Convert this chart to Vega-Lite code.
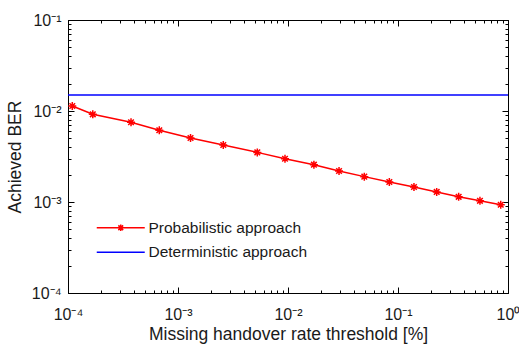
{
  "$schema": "https://vega.github.io/schema/vega-lite/v6.json",
  "width": 440,
  "height": 273,
  "autosize": "none",
  "padding": {"left": 68, "top": 20, "right": 11, "bottom": 51},
  "background": "white",
  "config": {
    "font": "Liberation Sans",
    "view": {"stroke": "#000000", "strokeWidth": 1},
    "axis": {
      "labelFont": "Liberation Sans",
      "titleFont": "Liberation Sans",
      "labelFontSize": 16,
      "titleFontSize": 17.5,
      "titleFontWeight": "normal",
      "labelColor": "#1a1a1a",
      "titleColor": "#1a1a1a",
      "domainColor": "#000000",
      "tickColor": "#000000",
      "grid": false
    },
    "legend": {
      "labelFont": "Liberation Sans",
      "labelFontSize": 15.5,
      "labelColor": "#1a1a1a"
    }
  },
  "data": {
    "values": [
      {"x": 0.0001094, "ber": 0.01135, "series": "Probabilistic approach"},
      {"x": 0.000168, "ber": 0.0092, "series": "Probabilistic approach"},
      {"x": 0.000374, "ber": 0.00752, "series": "Probabilistic approach"},
      {"x": 0.000676, "ber": 0.00614, "series": "Probabilistic approach"},
      {"x": 0.0013, "ber": 0.00505, "series": "Probabilistic approach"},
      {"x": 0.00258, "ber": 0.00423, "series": "Probabilistic approach"},
      {"x": 0.00526, "ber": 0.00351, "series": "Probabilistic approach"},
      {"x": 0.00939, "ber": 0.00299, "series": "Probabilistic approach"},
      {"x": 0.0172, "ber": 0.00257, "series": "Probabilistic approach"},
      {"x": 0.0291, "ber": 0.00219, "series": "Probabilistic approach"},
      {"x": 0.0494, "ber": 0.0019, "series": "Probabilistic approach"},
      {"x": 0.0834, "ber": 0.00166, "series": "Probabilistic approach"},
      {"x": 0.1397, "ber": 0.00146, "series": "Probabilistic approach"},
      {"x": 0.2248, "ber": 0.00129, "series": "Probabilistic approach"},
      {"x": 0.356, "ber": 0.00114, "series": "Probabilistic approach"},
      {"x": 0.556, "ber": 0.00103, "series": "Probabilistic approach"},
      {"x": 0.859, "ber": 0.000933, "series": "Probabilistic approach"},
      {"x": 0.0001, "ber": 0.015, "series": "Deterministic approach"},
      {"x": 1, "ber": 0.015, "series": "Deterministic approach"}
    ]
  },
  "resolve": {"axis": {"x": "independent", "y": "independent"}},
  "layer": [
    {
      "mark": {"type": "line", "strokeWidth": 1.5, "clip": true},
      "encoding": {
        "x": {
          "field": "x", "type": "quantitative",
          "scale": {"type": "log", "domain": [0.0001, 1], "nice": false},
          "axis": {
            "orient": "bottom",
            "title": "Missing handover rate threshold [%]",
            "titlePadding": 0,
            "values": [0.0001,0.0002,0.0003,0.0004,0.0005,0.0006,0.0007,0.0008,0.0009,0.001,0.002,0.003,0.004,0.005,0.006,0.007,0.008,0.009,0.01,0.02,0.03,0.04,0.05,0.06,0.07,0.08,0.09,0.1,0.2,0.3,0.4,0.5,0.6,0.7,0.8,0.9,1],
            "labelExpr": "datum.value == 0.0001 ? '10⁻⁴' : datum.value == 0.001 ? '10⁻³' : datum.value == 0.01 ? '10⁻²' : datum.value == 0.1 ? '10⁻¹' : datum.value == 1 ? '10⁰' : ''",
            "labelFlush": false,
            "labelOverlap": false,
            "labelPadding": 19,
            "tickSize": {"condition": {"test": "indexof([0.0001,0.001,0.01,0.1,1], datum.value) >= 0", "value": -6}, "value": -3}
          }
        },
        "y": {
          "field": "ber", "type": "quantitative",
          "scale": {"type": "log", "domain": [0.0001, 0.1], "nice": false},
          "axis": {
            "orient": "left",
            "title": "Achieved BER",
            "titlePadding": 7,
            "values": [0.0001,0.0002,0.0003,0.0004,0.0005,0.0006,0.0007,0.0008,0.0009,0.001,0.002,0.003,0.004,0.005,0.006,0.007,0.008,0.009,0.01,0.02,0.03,0.04,0.05,0.06,0.07,0.08,0.09,0.1],
            "labelExpr": "datum.value == 0.0001 ? '10⁻⁴' : datum.value == 0.001 ? '10⁻³' : datum.value == 0.01 ? '10⁻²' : datum.value == 0.1 ? '10⁻¹' : ''",
            "labelFlush": false,
            "labelOverlap": false,
            "labelPadding": 13,
            "tickSize": {"condition": {"test": "indexof([0.0001,0.001,0.01,0.1], datum.value) >= 0", "value": -6}, "value": -3}
          }
        },
        "color": {
          "field": "series", "type": "nominal",
          "scale": {"domain": ["Probabilistic approach", "Deterministic approach"], "range": ["#ff0000", "#0000ff"]},
          "legend": {
            "title": null,
            "orient": "none",
            "legendX": 45,
            "legendY": 200,
            "padding": 0,
            "symbolSize": 144,
            "symbolStrokeWidth": 1.5,
            "labelOffset": 20,
            "rowPadding": 7.5,
            "encode": {
              "symbols": {
                "update": {
                  "shape": {"signal": "datum.value === 'Probabilistic approach' ? 'M-4,0L4,0M-0.55,0L0.55,0M0,-0.55L0,0.55M-0.4,-0.4L0.4,0.4M-0.4,0.4L0.4,-0.4' : 'M-4,0L4,0'"},
                  "fill": {"value": "transparent"}
                }
              }
            }
          }
        }
      }
    },
    {
      "transform": [{"filter": "datum.series === 'Probabilistic approach'"}],
      "mark": {"type": "point", "shape": "M-1,0L1,0M0,-1L0,1M-0.7,-0.7L0.7,0.7M-0.7,0.7L0.7,-0.7", "filled": false, "stroke": "#ff0000", "strokeWidth": 1.5, "size": 64, "opacity": 1},
      "encoding": {
        "x": {"field": "x", "type": "quantitative", "axis": null},
        "y": {"field": "ber", "type": "quantitative", "axis": null}
      }
    },
    {
      "transform": [{"filter": "datum.series === 'Deterministic approach'"}],
      "mark": {"type": "line", "strokeWidth": 1.5, "opacity": 0},
      "encoding": {
        "x": {
          "field": "x", "type": "quantitative",
          "axis": {
            "orient": "top", "title": null, "labels": false,
            "values": [0.0001,0.0002,0.0003,0.0004,0.0005,0.0006,0.0007,0.0008,0.0009,0.001,0.002,0.003,0.004,0.005,0.006,0.007,0.008,0.009,0.01,0.02,0.03,0.04,0.05,0.06,0.07,0.08,0.09,0.1,0.2,0.3,0.4,0.5,0.6,0.7,0.8,0.9,1],
            "tickSize": {"condition": {"test": "indexof([0.0001,0.001,0.01,0.1,1], datum.value) >= 0", "value": -6}, "value": -3}
          }
        },
        "y": {
          "field": "ber", "type": "quantitative",
          "axis": {
            "orient": "right", "title": null, "labels": false,
            "values": [0.0001,0.0002,0.0003,0.0004,0.0005,0.0006,0.0007,0.0008,0.0009,0.001,0.002,0.003,0.004,0.005,0.006,0.007,0.008,0.009,0.01,0.02,0.03,0.04,0.05,0.06,0.07,0.08,0.09,0.1],
            "tickSize": {"condition": {"test": "indexof([0.0001,0.001,0.01,0.1], datum.value) >= 0", "value": -6}, "value": -3}
          }
        }
      }
    }
  ]
}
